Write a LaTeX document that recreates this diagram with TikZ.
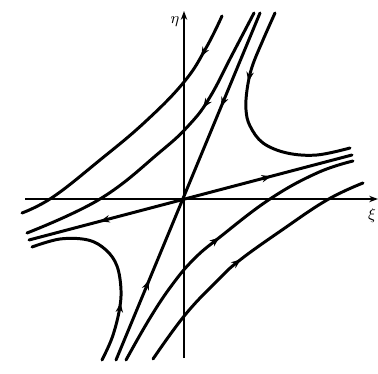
\documentclass[tikz,border=0pt]{standalone}
\usepackage{tikz}
\usetikzlibrary{arrows.meta,decorations.markings}

\begin{document}
\begin{tikzpicture}[
    x=0.02cm, y=-0.02cm,
    flowtip/.tip={Stealth[length=5.5pt,width=4.2pt]},
    axis/.style={line width=0.9pt, -{Stealth[length=5pt,width=3.6pt]}},
    orbit/.style={line width=1.7pt, line cap=round},
    fwd/.style={postaction={decorate, decoration={markings, mark=at position #1 with {\arrow{flowtip}}}}},
    bwd/.style={postaction={decorate, decoration={markings, mark=at position #1 with {\arrowreversed{flowtip}}}}}
]
\useasboundingbox (0,0) rectangle (378,374);

% Axes
\coordinate (O) at (184,199);
\coordinate (xstart) at (25,199);
\coordinate (xend) at (378,199);
\coordinate (ystart) at (184,358);
\coordinate (yend) at (184,11);
\draw[axis] (xstart) -- (xend);
\draw[axis] (ystart) -- (yend);
\node[font=\small] (xilabel) at (372,216) {$\xi$};
\node[font=\small] (etalabel) at (175,22) {$\eta$};

% Straight trajectories through the origin
\coordinate (steeplo) at (116,360);
\coordinate (steephi) at (260,13);
\coordinate (flatlo) at (29,240);
\coordinate (flathi) at (352,155);
\draw[orbit, fwd=0.23, bwd=0.73] (steeplo) -- (steephi);
\draw[orbit, bwd=0.22, fwd=0.75] (flatlo) -- (flathi);

% Trajectories above the origin
\draw[orbit, bwd=0.84] plot[smooth, tension=0.7] coordinates {(22,213) (53,197) (100,160) (145,122) (184,82) (206,48) (222,16)};
\draw[orbit, bwd=0.67] plot[smooth, tension=0.7] coordinates {(27,233) (100,199) (160,152) (190,124) (210,97) (232,55) (254,13)};
\draw[orbit, fwd=0.32] plot[smooth, tension=0.6] coordinates {(275,13) (263,40) (252,67) (247,90) (246,110) (250,126) (263,143) (287,153) (317,155) (350,148)};

% Trajectories below the origin
\draw[orbit, bwd=0.69] plot[smooth, tension=0.6] coordinates {(32,247) (60,239) (88,240) (106,250) (117,266) (121,290) (119,312) (112,338) (102,360)};
\draw[orbit, fwd=0.50] plot[smooth, tension=0.7] coordinates {(126,360) (150,318) (172,285) (194,259) (220,237) (270,199) (317,173) (353,161)};
\draw[orbit, fwd=0.48] plot[smooth, tension=0.7] coordinates {(153,359) (185,315) (218,280) (240,260) (282,230) (327,200) (363,183)};

\end{tikzpicture}
\end{document}
